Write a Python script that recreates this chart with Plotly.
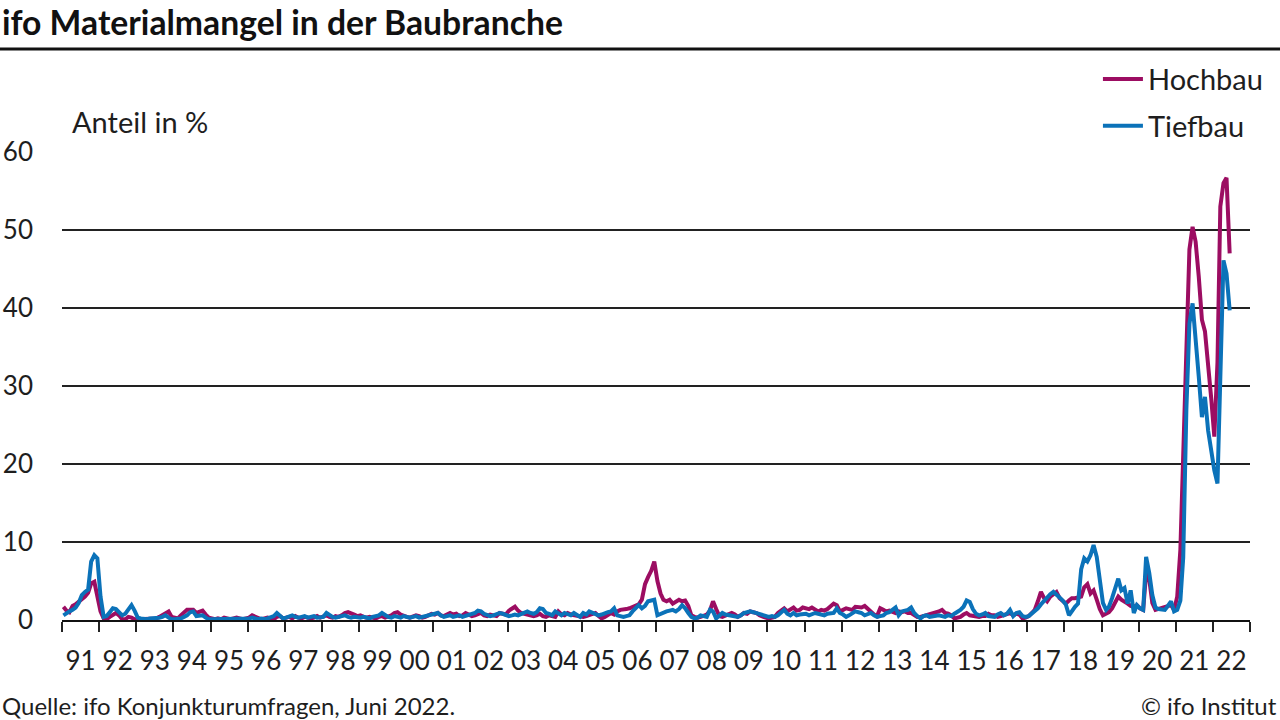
import pandas as pd
import plotly.graph_objects as go

# ifo Materialmangel, Anteil der Firmen in %, monatlich Jan 1991 - Jun 2022
hochbau = [
    1.7, 1.2, 1.0, 1.8, 2.0, 2.3, 2.7, 3.0, 3.5, 4.7, 4.9, 3.2,  # 1991
    1.1, 0.2, 0.1, 0.4, 0.6, 0.9, 0.6, 0.1, 0.1, 0.4, 0.3, 0.1,  # 1992
    0.1, 0.1, 0.2, 0.1, 0.1, 0.2, 0.2, 0.4, 0.6, 0.9, 1.1, 0.4,  # 1993
    0.3, 0.2, 0.6, 1.0, 1.3, 1.3, 1.3, 0.9, 1.0, 1.2, 0.7, 0.3,  # 1994
    0.2, 0.1, 0.2, 0.1, 0.3, 0.2, 0.1, 0.2, 0.3, 0.2, 0.1, 0.2,  # 1995
    0.3, 0.6, 0.4, 0.2, 0.1, 0.2, 0.3, 0.2, 0.1, 0.4, 0.5, 0.2,  # 1996
    0.3, 0.4, 0.2, 0.5, 0.3, 0.2, 0.4, 0.3, 0.2, 0.3, 0.5, 0.3,  # 1997
    0.4, 0.6, 0.4, 0.3, 0.5, 0.4, 0.6, 0.9, 1.0, 0.9, 0.7, 0.5,  # 1998
    0.6, 0.4, 0.3, 0.4, 0.3, 0.2, 0.4, 0.5, 0.3, 0.4, 0.6, 0.9,  # 1999
    1.0, 0.7, 0.5, 0.4, 0.3, 0.4, 0.6, 0.5, 0.3, 0.4, 0.6, 0.8,  # 2000
    0.7, 0.9, 0.6, 0.5, 0.7, 0.9, 0.7, 0.8, 0.5, 0.6, 0.9, 0.7,  # 2001
    0.5, 0.6, 0.8, 0.9, 0.6, 0.5, 0.7, 0.6, 0.5, 0.9, 0.8, 0.7,  # 2002
    1.2, 1.5, 1.7, 1.2, 0.9, 0.8, 0.7, 0.6, 0.5, 0.6, 0.8, 0.5,  # 2003
    0.4, 0.6, 0.5, 0.4, 1.1, 0.7, 0.6, 0.9, 0.7, 0.6, 0.6, 0.5,  # 2004
    0.4, 0.5, 0.6, 0.8, 0.9, 0.5, 0.2, 0.4, 0.6, 0.9, 0.7, 1.1,  # 2005
    1.3, 1.3, 1.4, 1.5, 1.7, 1.9, 2.0, 2.6, 4.6, 5.5, 6.3, 7.5,  # 2006
    5.0, 3.4, 2.6, 2.4, 2.6, 2.1, 2.3, 2.6, 2.4, 2.5, 1.8, 0.6,  # 2007
    0.4, 0.3, 0.4, 0.5, 0.7, 1.2, 2.4, 1.4, 0.5, 0.4, 0.6, 0.7,  # 2008
    0.9, 0.7, 0.4, 0.6, 0.9, 0.8, 1.1, 1.0, 0.9, 0.6, 0.4, 0.3,  # 2009
    0.2, 0.3, 0.4, 0.9, 1.2, 1.5, 1.1, 1.4, 1.6, 1.2, 1.3, 1.6,  # 2010
    1.5, 1.4, 1.6, 1.3, 1.1, 1.3, 1.2, 1.4, 1.7, 2.1, 1.9, 1.1,  # 2011
    1.3, 1.5, 1.4, 1.3, 1.7, 1.6, 1.6, 1.8, 1.4, 1.1, 0.7, 0.5,  # 2012
    1.5, 1.3, 1.1, 1.2, 1.0, 0.9, 1.1, 1.0, 1.1, 0.9, 0.9, 0.6,  # 2013
    0.4, 0.4, 0.5, 0.6, 0.7, 0.8, 0.9, 1.1, 1.3, 0.9, 0.8, 0.6,  # 2014
    0.2, 0.3, 0.4, 0.7, 0.9, 0.6, 0.5, 0.4, 0.4, 0.5, 0.5, 0.8,  # 2015
    0.6, 0.6, 0.4, 0.5, 0.6, 0.8, 0.9, 0.6, 0.8, 0.7, 0.2, 0.3,  # 2016
    0.5, 0.9, 1.3, 2.4, 3.6, 2.8, 2.4, 3.0, 3.3, 3.6, 2.8, 2.4,  # 2017
    2.1, 2.5, 2.8, 2.8, 2.9, 3.0, 4.2, 4.6, 3.4, 3.8, 2.6, 1.4,  # 2018
    0.6, 0.8, 1.0, 1.5, 2.2, 3.0, 2.6, 2.4, 2.1, 1.8, 1.7, 1.9,  # 2019
    1.5, 1.3, 6.0, 5.2, 2.2, 1.3, 1.4, 1.6, 1.7, 1.8, 1.9, 1.3,  # 2020
    3.0, 9.0, 22.0, 35.0, 47.5, 50.4, 48.5, 44.0, 38.5, 37.0, 33.0, 28.5,  # 2021
    23.5, 33.0, 53.0, 56.0, 56.7, 47.0,  # 2022
]

tiefbau = [
    0.6, 0.9, 1.1, 1.3, 1.6, 2.2, 3.2, 3.6, 3.9, 7.5, 8.3, 7.9,  # 1991
    3.0, 0.4, 0.5, 1.0, 1.5, 1.4, 1.0, 0.6, 0.8, 1.3, 1.9, 1.2,  # 1992
    0.3, 0.2, 0.1, 0.1, 0.2, 0.2, 0.2, 0.3, 0.4, 0.6, 0.3, 0.1,  # 1993
    0.1, 0.1, 0.2, 0.4, 0.6, 1.0, 1.1, 0.5, 0.6, 0.6, 0.3, 0.1,  # 1994
    0.1, 0.1, 0.2, 0.1, 0.1, 0.2, 0.1, 0.1, 0.2, 0.1, 0.1, 0.2,  # 1995
    0.2, 0.3, 0.2, 0.1, 0.2, 0.1, 0.2, 0.3, 0.5, 0.9, 0.5, 0.2,  # 1996
    0.3, 0.4, 0.6, 0.4, 0.3, 0.4, 0.5, 0.3, 0.4, 0.5, 0.3, 0.4,  # 1997
    0.4, 0.9, 0.6, 0.4, 0.3, 0.4, 0.5, 0.6, 0.4, 0.3, 0.4, 0.3,  # 1998
    0.3, 0.4, 0.3, 0.2, 0.4, 0.5, 0.6, 0.9, 0.6, 0.4, 0.3, 0.5,  # 1999
    0.4, 0.3, 0.5, 0.4, 0.3, 0.4, 0.5, 0.3, 0.4, 0.5, 0.6, 0.7,  # 2000
    0.8, 0.9, 0.6, 0.4, 0.5, 0.6, 0.4, 0.5, 0.6, 0.4, 0.5, 0.6,  # 2001
    0.7, 0.9, 1.2, 1.1, 0.8, 0.6, 0.5, 0.6, 0.7, 0.9, 0.8, 0.7,  # 2002
    0.5, 0.6, 0.7, 0.6, 0.8, 0.9, 1.1, 0.9, 0.8, 1.0, 1.5, 1.4,  # 2003
    0.9, 0.8, 0.6, 1.1, 0.8, 0.6, 0.9, 0.7, 0.6, 0.9, 0.6, 0.4,  # 2004
    0.9, 0.7, 1.1, 0.9, 0.8, 0.6, 0.7, 0.9, 1.0, 1.1, 1.5, 0.6,  # 2005
    0.5, 0.4, 0.5, 0.6, 1.1, 1.5, 1.9, 1.5, 1.8, 2.4, 2.5, 2.6,  # 2006
    0.6, 0.8, 0.9, 1.1, 1.2, 1.3, 1.1, 1.4, 1.9, 1.5, 0.9, 0.4,  # 2007
    0.2, 0.3, 0.6, 0.5, 0.4, 1.3, 1.1, 0.2, 0.5, 0.9, 0.7, 0.6,  # 2008
    0.6, 0.5, 0.4, 0.6, 0.9, 1.0, 1.1, 1.0, 0.9, 0.8, 0.6, 0.5,  # 2009
    0.4, 0.5, 0.4, 0.6, 0.9, 1.3, 0.8, 0.6, 0.9, 0.6, 0.7, 0.8,  # 2010
    0.8, 0.6, 0.8, 0.9, 0.8, 0.7, 0.6, 0.8, 0.9, 0.9, 1.5, 0.9,  # 2011
    0.7, 0.4, 0.6, 0.9, 1.1, 1.0, 0.9, 0.6, 0.8, 0.9, 0.6, 0.4,  # 2012
    0.5, 0.6, 0.9, 1.0, 1.3, 1.6, 0.6, 1.1, 1.2, 1.3, 1.6, 0.9,  # 2013
    0.5, 0.2, 0.5, 0.6, 0.4, 0.5, 0.6, 0.6, 0.5, 0.4, 0.6, 0.5,  # 2014
    0.8, 1.0, 1.3, 1.7, 2.5, 2.3, 1.4, 0.8, 0.6, 0.7, 0.9, 0.5,  # 2015
    0.5, 0.4, 0.7, 0.9, 0.6, 0.8, 1.3, 0.5, 0.9, 1.0, 0.5, 0.4,  # 2016
    0.5, 0.8, 1.1, 1.5, 2.0, 2.5, 2.9, 3.3, 3.6, 3.3, 2.9, 2.5,  # 2017
    2.0, 0.6, 1.2, 1.7, 2.1, 6.5, 7.9, 7.5, 8.3, 9.6, 8.1, 5.2,  # 2018
    2.2, 1.3, 1.7, 2.8, 4.2, 5.3, 3.8, 4.1, 2.1, 3.8, 0.9, 1.9,  # 2019
    1.5, 1.3, 8.1, 6.0, 3.2, 1.6, 1.4, 1.3, 1.3, 1.8, 2.4, 1.1,  # 2020
    1.3, 2.5, 8.0, 27.0, 38.0, 40.6, 35.2, 31.2, 26.0, 28.6, 24.3, 21.8,  # 2021
    19.2, 17.5, 33.5, 46.1, 44.4, 39.7,  # 2022
]

# Monatsmitte als Zeitpunkt
months = pd.date_range("1991-01-01", periods=len(hochbau), freq="MS") + pd.Timedelta(days=14)

y_ticks = [0, 10, 20, 30, 40, 50, 60]

PINK = "#9c0d62"
BLUE = "#0b72b9"
TXT = "#1e1e1e"
FONT = "Lato"

fig = go.Figure()
fig.add_trace(go.Scatter(x=months, y=hochbau, name="Hochbau", mode="lines",
                         line=dict(color=PINK, width=4), legendgroup="h"))
fig.add_trace(go.Scatter(x=months, y=tiefbau, name="Tiefbau", mode="lines",
                         line=dict(color=BLUE, width=4), legendgroup="t"))

fig.update_layout(
    width=1280, height=720,
    margin=dict(l=62, r=30, t=152, b=100, autoexpand=False),
    paper_bgcolor="white", plot_bgcolor="white",
    font=dict(family=FONT, size=26, color=TXT),
    title=dict(text="<b>ifo Materialmangel in der Baubranche</b>",
               x=0.0015, xref="container", xanchor="left",
               y=1 - 23 / 720, yref="container", yanchor="middle",
               font=dict(family=FONT, size=33.7, color="#111")),
    showlegend=True,
    legend=dict(x=0.872, y=1.21, xanchor="left", yanchor="top",
                font=dict(size=29, color=TXT), bgcolor="rgba(0,0,0,0)",
                traceorder="grouped", tracegroupgap=6, itemwidth=40),
    xaxis=dict(type="date", range=["1991-01-01", "2023-01-01"],
               tick0="1991-01-01", dtick="M12", tickformat="%y",
               ticklabelmode="period", ticks="outside", ticklen=10,
               tickwidth=1.5, tickcolor="#222", showline=True,
               linecolor="#111", linewidth=2, showgrid=False,
               ticklabelstandoff=7, tickfont=dict(size=26, color=TXT)),
    yaxis=dict(range=[0, 60], tickvals=y_ticks, showgrid=True,
               gridcolor="#222", gridwidth=1.6, zeroline=False,
               showline=False, ticks="", ticklabelstandoff=28,
               tickfont=dict(size=26, color=TXT)),
    shapes=[dict(type="line", xref="paper", yref="paper",
                 x0=-62 / 1188, x1=(1280 - 62) / 1188,
                 y0=(620 - 49) / 468, y1=(620 - 49) / 468,
                 line=dict(color="#111", width=3))],
    annotations=[
        dict(text="Anteil in %", xref="paper", yref="paper",
             x=(70 - 62) / 1188, y=(620 - 121) / 468,
             xanchor="left", yanchor="middle", showarrow=False,
             font=dict(size=29, color=TXT)),
        dict(text="Quelle: ifo Konjunkturumfragen, Juni 2022.",
             xref="paper", yref="paper", x=-62 / 1188, y=(620 - 705) / 468,
             xanchor="left", yanchor="middle", showarrow=False,
             font=dict(size=24, color=TXT)),
        dict(text="© ifo Institut", xref="paper", yref="paper",
             x=(1279 - 62) / 1188, y=(620 - 705) / 468,
             xanchor="right", yanchor="middle", showarrow=False,
             font=dict(size=24, color=TXT)),
    ],
)

# die Seite soll ohne Rand starten
fig.write_html("out.html", config={"displayModeBar": False},
               post_script="document.body.style.margin='0';document.body.style.padding='0';")
